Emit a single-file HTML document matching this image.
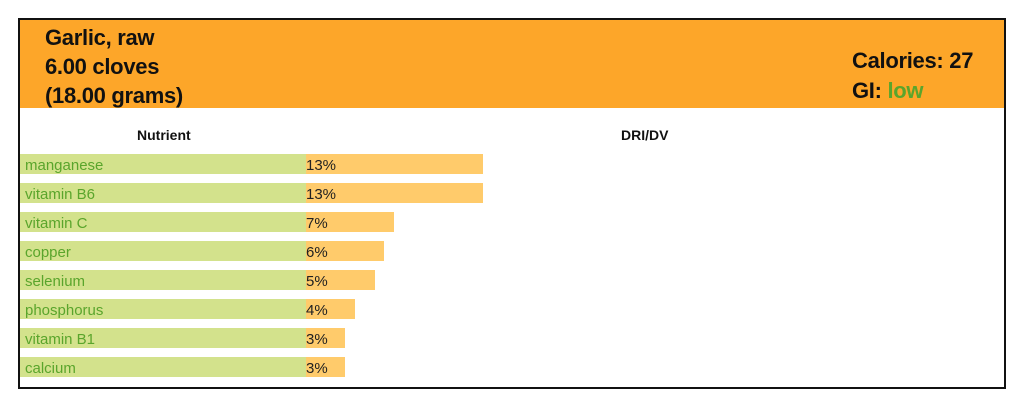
<!DOCTYPE html>
<html><head><style>
body{margin:0;width:1024px;height:407px;background:#fff;font-family:"Liberation Sans",sans-serif;position:relative;overflow:hidden}
.box{position:absolute;left:18px;top:18px;width:984px;height:367px;border:2px solid #111}
.hdr{position:absolute;left:20px;top:20px;width:984px;height:88px;background:#fda629}
.t{position:absolute;font-size:22px;color:#111;font-weight:bold;letter-spacing:-0.3px}
.g{position:absolute;left:20px;width:286px;height:20px;background:#d3e28c}
.o{position:absolute;left:306px;height:20px;background:#ffcb6b}
.l{position:absolute;left:25px;font-size:15px;color:#5aa52c;line-height:20px;margin-top:2px}
.p{position:absolute;left:306px;font-size:15px;color:#222;line-height:20px;margin-top:2px}
.h{position:absolute;font-size:14px;font-weight:bold;color:#111}
</style></head><body>
<div class="box"></div>
<div class="hdr"></div>
<div class="t" style="left:45px;top:25px">Garlic, raw</div>
<div class="t" style="left:45px;top:54px">6.00 cloves</div>
<div class="t" style="left:45px;top:83px">(18.00 grams)</div>
<div class="t" style="left:852px;top:48px">Calories: 27</div>
<div class="t" style="left:852px;top:78px">GI: <span style="color:#5aa52c">low</span></div>
<div class="h" style="left:137px;top:127px">Nutrient</div>
<div class="h" style="left:621px;top:127px">DRI/DV</div>

<div class="g" style="top:154px"></div><div class="o" style="top:154px;width:177px"></div><div class="l" style="top:154px">manganese</div><div class="p" style="top:154px">13%</div>
<div class="g" style="top:183px"></div><div class="o" style="top:183px;width:177px"></div><div class="l" style="top:183px">vitamin B6</div><div class="p" style="top:183px">13%</div>
<div class="g" style="top:212px"></div><div class="o" style="top:212px;width:88px"></div><div class="l" style="top:212px">vitamin C</div><div class="p" style="top:212px">7%</div>
<div class="g" style="top:241px"></div><div class="o" style="top:241px;width:78px"></div><div class="l" style="top:241px">copper</div><div class="p" style="top:241px">6%</div>
<div class="g" style="top:270px"></div><div class="o" style="top:270px;width:69px"></div><div class="l" style="top:270px">selenium</div><div class="p" style="top:270px">5%</div>
<div class="g" style="top:299px"></div><div class="o" style="top:299px;width:49px"></div><div class="l" style="top:299px">phosphorus</div><div class="p" style="top:299px">4%</div>
<div class="g" style="top:328px"></div><div class="o" style="top:328px;width:39px"></div><div class="l" style="top:328px">vitamin B1</div><div class="p" style="top:328px">3%</div>
<div class="g" style="top:357px"></div><div class="o" style="top:357px;width:39px"></div><div class="l" style="top:357px">calcium</div><div class="p" style="top:357px">3%</div>
</body></html>
